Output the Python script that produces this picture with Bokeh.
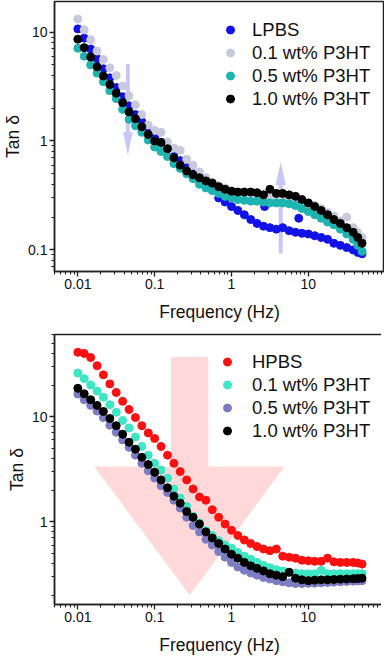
import math
from bokeh.plotting import figure
from bokeh.models import Range1d, FixedTicker, Legend, LegendItem
from bokeh.layouts import column
from bokeh.embed import file_html
from bokeh.resources import INLINE

# ---------------- data ----------------
freq = [0.01, 0.0121, 0.0147, 0.0178, 0.0215, 0.0261, 0.0316, 0.0383, 0.0464, 0.0562, 0.0681, 0.0825,
        0.1, 0.121, 0.147, 0.178, 0.215, 0.261, 0.316, 0.383, 0.464, 0.562, 0.681, 0.825,
        1, 1.21, 1.47, 1.78, 2.15, 2.61, 3.16, 3.83, 4.64, 5.62, 6.81, 8.25,
        10, 12.1, 14.7, 17.8, 21.5, 26.1, 31.6, 38.3, 44, 50]

# top panel
lpbs = [10.7, 8.8, 7.0, 5.7, 4.6, 3.8, 3.1, 2.55, 2.1, 1.75, 1.5, 1.25,
        1.08, 0.97, 0.85, 0.72, 0.66, 0.57, 0.5, 0.46, 0.42, 0.38, 0.3, 0.275,
        0.25, 0.23, 0.21, 0.19, 0.175, 0.165, 0.16, 0.155, 0.16, 0.15, 0.145, 0.142,
        0.14, 0.135, 0.13, 0.125, 0.115, 0.11, 0.105, 0.1, 0.095, 0.092]
lpbs_out_f = [2.7, 7.5]
lpbs_out_v = [0.25, 0.195]
top_p01 = [13.2, 10.5, 8.5, 6.7, 5.6, 4.7, 4.0, 3.2, 2.6, 2.15, 1.75, 1.4,
           1.25, 1.2, 0.98, 0.86, 0.82, 0.68, 0.6, 0.52, 0.46, 0.42, 0.39, 0.37,
           0.35, 0.335, 0.33, 0.33, 0.325, 0.32, 0.31, 0.31, 0.305, 0.3, 0.3, 0.285,
           0.27, 0.255, 0.24, 0.22, 0.205, 0.185, 0.2, 0.16, 0.145, 0.13]
top_p05 = [7.1, 6.0, 5.0, 4.2, 3.5, 2.9, 2.45, 1.95, 1.58, 1.38, 1.2, 1.02,
           0.88, 0.8, 0.72, 0.62, 0.56, 0.5, 0.45, 0.4, 0.37, 0.35, 0.33, 0.31,
           0.3, 0.29, 0.285, 0.28, 0.28, 0.275, 0.27, 0.27, 0.27, 0.265, 0.255, 0.24,
           0.225, 0.21, 0.195, 0.18, 0.17, 0.155, 0.14, 0.125, 0.11, 0.097]
top_p10 = [8.6, 7.2, 5.9, 4.8, 3.95, 3.3, 2.75, 2.25, 1.85, 1.6, 1.35, 1.15,
           1.0, 0.97, 0.85, 0.7, 0.6, 0.53, 0.49, 0.46, 0.43, 0.41, 0.38, 0.36,
           0.345, 0.34, 0.34, 0.34, 0.335, 0.32, 0.36, 0.33, 0.33, 0.32, 0.31, 0.29,
           0.27, 0.25, 0.23, 0.21, 0.19, 0.175, 0.16, 0.145, 0.13, 0.115]

# bottom panel
hpbs = [41, 40, 36.5, 30.5, 25, 20.5, 17, 14, 11.7, 9.8, 8.2, 7.0,
        6.2, 5.2, 4.3, 3.6, 3.0, 2.5, 2.05, 1.72, 1.6, 1.3, 1.1, 0.95,
        0.83, 0.74, 0.67, 0.62, 0.58, 0.55, 0.53, 0.55, 0.47, 0.46, 0.45, 0.43,
        0.425, 0.42, 0.42, 0.45, 0.415, 0.41, 0.41, 0.41, 0.405, 0.395]
bot_p01 = [26, 23, 20, 17.5, 15.3, 13, 11, 9.2, 7.8, 6.4, 5.2, 4.3,
           3.6, 3.1, 2.6, 2.05, 1.68, 1.4, 1.13, 0.97, 0.82, 0.74, 0.66, 0.6,
           0.56, 0.51, 0.47, 0.44, 0.41, 0.385, 0.365, 0.35, 0.34, 0.33, 0.325, 0.32,
           0.32, 0.32, 0.345, 0.32, 0.32, 0.32, 0.32, 0.32, 0.32, 0.32]
bot_p05 = [16.4, 14.5, 12.8, 11.3, 9.8, 8.3, 7.1, 6.0, 5.1, 4.3, 3.6, 3.05,
           2.6, 2.2, 1.9, 1.6, 1.35, 1.1, 0.92, 0.8, 0.68, 0.6, 0.52, 0.46,
           0.41, 0.37, 0.345, 0.325, 0.31, 0.295, 0.285, 0.275, 0.268, 0.262, 0.258, 0.258,
           0.259, 0.26, 0.262, 0.264, 0.266, 0.268, 0.27, 0.272, 0.273, 0.274]
bot_p10 = [18.6, 16.5, 14.5, 12.8, 11.2, 9.6, 8.2, 6.8, 5.7, 4.9, 4.1, 3.5,
           2.95, 2.5, 2.1, 1.75, 1.5, 1.25, 1.1, 0.95, 0.8, 0.7, 0.62, 0.55,
           0.49, 0.45, 0.41, 0.38, 0.36, 0.34, 0.32, 0.31, 0.3, 0.33, 0.29, 0.28,
           0.275, 0.278, 0.28, 0.28, 0.282, 0.284, 0.285, 0.287, 0.288, 0.29]

x_major = [0.01, 0.1, 1, 10]
y_major_top = [0.1, 1, 10]
y_major_bot = [1, 10]
labels_top = ["LPBS", "0.1 wt% P3HT", "0.5 wt% P3HT", "1.0 wt% P3HT"]
labels_bot = ["HPBS", "0.1 wt% P3HT", "0.5 wt% P3HT", "1.0 wt% P3HT"]
colors_top = ["#1212e8", "#c9c9dd", "#1cb3b0", "#000000"]
colors_bot = ["#ff1010", "#3de6c4", "#7c7cc4", "#000000"]

FONT = "Liberation Sans"


def minor_list(lo_exp, hi_exp):
    out = []
    for e in range(lo_exp, hi_exp + 1):
        for m in range(2, 10):
            out.append(m * 10.0 ** e)
    return out


def fmt(v):
    return ("%g" % v)


def make_fig(fh, yr, ymaj, bt):
    p = figure(frame_width=330, frame_height=fh, x_axis_type="log", y_axis_type="log",
               x_range=Range1d(0.00497, 98), y_range=Range1d(*yr),
               output_backend="svg", toolbar_location=None,
               min_border_left=46, min_border_right=0,
               min_border_top=bt, min_border_bottom=0)
    p.grid.visible = False
    p.outline_line_color = "#222222"
    p.outline_line_width = 1.5
    p.background_fill_color = "white"
    p.border_fill_color = "white"
    p.xaxis.ticker = FixedTicker(ticks=x_major, minor_ticks=minor_list(-3, 1))
    p.yaxis.ticker = FixedTicker(ticks=ymaj, minor_ticks=minor_list(-2, 1))
    p.xaxis.major_label_overrides = {v: fmt(v) for v in x_major}
    p.yaxis.major_label_overrides = {v: fmt(v) for v in ymaj}
    for ax in (p.xaxis[0], p.yaxis[0]):
        ax.axis_line_color = "#222222"
        ax.axis_line_width = 1.5
        ax.major_tick_line_color = "#222222"
        ax.minor_tick_line_color = "#222222"
        ax.major_tick_line_width = 1.3
        ax.minor_tick_line_width = 1.1
        ax.major_tick_in = 0
        ax.major_tick_out = 5
        ax.minor_tick_in = 0
        ax.minor_tick_out = 3
        ax.major_label_text_font = FONT
        ax.major_label_text_font_size = "14px"
        ax.major_label_text_color = "#111111"
        ax.major_label_standoff = 2
        ax.axis_label_text_font = FONT
        ax.axis_label_text_font_size = "17.5px"
        ax.axis_label_text_font_style = "normal"
        ax.axis_label_text_color = "#111111"
    p.xaxis.axis_label = "Frequency (Hz)"
    p.yaxis.axis_label = "Tan δ"
    p.xaxis.axis_label_standoff = 10
    p.yaxis.axis_label_standoff = 2
    return p


def arrow(p, xc, y_tail, y_base, y_tip, shaft_hw, head_hw, color, alpha):
    lx = math.log10(xc)
    xs = [10 ** (lx - shaft_hw), 10 ** (lx + shaft_hw), 10 ** (lx + shaft_hw),
          10 ** (lx + head_hw), xc, 10 ** (lx - head_hw), 10 ** (lx - shaft_hw)]
    ys = [y_tail, y_tail, y_base, y_base, y_tip, y_base, y_base]
    p.patch(xs, ys, fill_color=color, fill_alpha=alpha, line_color=None)


LH = 23


def add_legend(p, renderers, labels, x, y, standoff):
    items = [LegendItem(label=l, renderers=[r]) for l, r in zip(labels, renderers)]
    lg = Legend(items=items, location=(x, y), padding=0, margin=0, spacing=0,
                glyph_width=20, glyph_height=LH, label_height=LH,
                label_standoff=standoff,
                label_text_font=FONT, label_text_font_size="18.5px",
                label_text_color="#111111",
                background_fill_alpha=0, border_line_alpha=0)
    p.add_layout(lg)


MS = 8
FH = 270

# ---------------- top panel ----------------
p1 = make_fig(FH, (0.0633, 19.1), y_major_top, 1)
arrow(p1, 0.0448, 5.1, 1.21, 0.74, 0.026, 0.062, "#c4c4fa", 0.95)
arrow(p1, 4.37, 0.093, 0.393, 0.642, 0.026, 0.068, "#c4c4fa", 0.95)
r_l = p1.scatter(freq, lpbs, size=MS, color=colors_top[0])
p1.scatter(lpbs_out_f, lpbs_out_v, size=MS, color=colors_top[0])
r_a = p1.scatter(freq, top_p01, size=MS, color=colors_top[1])
r_b = p1.scatter(freq, top_p05, size=MS, color=colors_top[2])
r_c = p1.scatter(freq, top_p10, size=MS, color=colors_top[3])
add_legend(p1, [r_l, r_a, r_b, r_c], labels_top, 166, FH - 17 - 4 * LH, 12)

# ---------------- bottom panel ----------------
p2 = make_fig(FH, (0.163, 60.5), y_major_bot, 10)
sx_l, sx_r, s_top, h_base = 0.163, 0.50, 37, 3.36
h_l, h_r, tip_x, tip_y = 0.0163, 4.9, 0.286, 0.20
p2.patch([sx_l, sx_r, sx_r, h_r, tip_x, h_l, sx_l],
         [s_top, s_top, h_base, h_base, tip_y, h_base, h_base],
         fill_color="#ffb4b4", fill_alpha=0.5, line_color=None)
s_h = p2.scatter(freq, hpbs, size=MS, color=colors_bot[0])
s_a = p2.scatter(freq, bot_p01, size=MS, color=colors_bot[1])
s_b = p2.scatter(freq, bot_p05, size=MS, color=colors_bot[2])
s_c = p2.scatter(freq, bot_p10, size=MS, color=colors_bot[3])
add_legend(p2, [s_h, s_a, s_b, s_c], labels_bot, 166, FH - 16 - 4 * LH, 15)

layout = column(p1, p2, spacing=0)
open("out.html", "w").write(file_html(layout, INLINE))
